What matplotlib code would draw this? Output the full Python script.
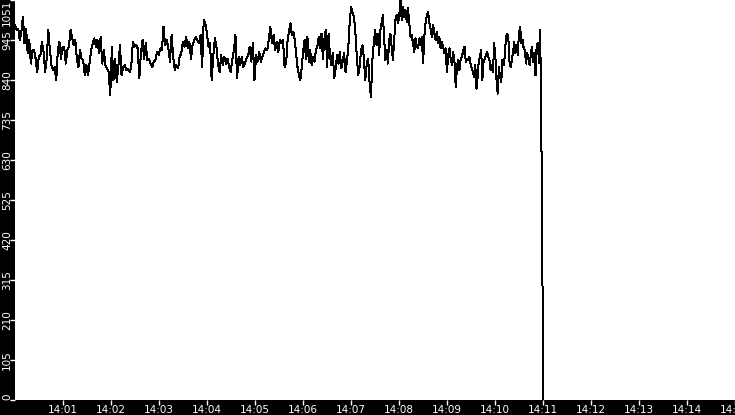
import datetime as dt
import numpy as np
import matplotlib
matplotlib.use("Agg")
import matplotlib.pyplot as plt
import matplotlib.dates as mdates

# readings, one list per stretch of the trace
seg_starts = ["14:00:00", "14:01:53", "14:03:46", "14:05:39", "14:07:32", "14:09:25", "14:10:58"]

seg1 = [985, 972, 976, 946, 968, 1007, 937, 976, 911, 946, 884, 919, 919, 897, 862, 902, 906, 941, 915,
        862, 897, 972, 919, 880, 867, 875, 840, 919, 941, 897, 928, 928, 884, 919, 928, 972, 954, 932,
        946, 897, 875, 919, 897, 893, 853, 880, 853, 884, 919, 937, 950, 928, 946, 911, 954, 884, 919]
seg2 = [880, 871, 862, 801, 928, 840, 897, 836, 875, 932, 853, 875, 880, 867, 871, 862, 875, 941, 928,
        932, 924, 845, 911, 946, 897, 937, 893, 897, 884, 875, 889, 893, 915, 906, 924, 919, 981, 932,
        946, 924, 889, 959, 902, 867, 880, 871, 902, 911, 941, 928, 954, 924, 941, 897, 932, 946]
seg3 = [954, 946, 937, 959, 875, 998, 990, 963, 928, 937, 840, 902, 950, 928, 884, 862, 906, 880, 902,
        884, 897, 875, 862, 893, 919, 959, 845, 902, 880, 902, 875, 884, 897, 906, 928, 889, 937, 840,
        906, 889, 915, 889, 902, 915, 924, 919, 946, 981, 937, 959, 919, 941, 915, 946, 937, 946, 875]
seg4 = [889, 946, 968, 990, 959, 968, 946, 911, 875, 853, 840, 875, 915, 946, 897, 954, 889, 919, 880,
        902, 889, 919, 928, 954, 924, 963, 897, 946, 972, 875, 963, 902, 880, 911, 845, 871, 906, 884,
        915, 871, 889, 911, 862, 889, 928, 998, 1033, 1016, 1007, 963, 902, 853, 875, 919, 932, 897,
        840, 884, 897, 836, 796, 893, 937, 972]
seg5 = [932, 963, 906, 972, 990, 1011, 954, 893, 919, 884, 946, 963, 928, 893, 946, 998, 1011, 990,
        1007, 1051, 998, 1033, 1007, 1025, 994, 1029, 990, 954, 959, 937, 915, 950, 928, 924, 950, 932,
        954, 884, 954, 990, 1011, 1020, 990, 976, 954, 985, 963, 946, 968, 937, 954, 924, 941, 928, 911,
        924, 862, 906, 924, 897, 880, 915, 889, 823, 875, 893, 867, 897, 902, 919, 928, 889]
seg6 = [897, 893, 902, 884, 871, 862, 849, 880, 818, 849, 893, 902, 919, 840, 889, 897, 906, 915, 902,
        893, 867, 880, 862, 937, 902, 840, 805, 875, 849, 836, 893, 880, 902, 954, 963, 950, 889, 875,
        893, 915, 941, 911, 932, 906, 963, 981, 937, 946, 924, 919, 884, 911, 897, 880, 906, 928, 889,
        911, 853, 932, 937, 884, 972]
drop_times = ["14:10:59", "14:11:00"]
drop_vals = [480, 0]


def at(hms):
    return dt.datetime.strptime("2024-01-01 " + hms, "%Y-%m-%d %H:%M:%S")


segs = [seg1, seg2, seg3, seg4, seg5, seg6]
times = []
vals = []
for i, seg in enumerate(segs):
    t0 = at(seg_starts[i])
    t1 = at(seg_starts[i + 1])
    step = (t1 - t0) / len(seg)
    times += [t0 + step * k for k in range(len(seg))]
    vals += seg
times += [at(t) for t in drop_times]
vals += drop_vals
x = mdates.date2num(times)

W, H = 735, 415
fig = plt.figure(figsize=(W / 100, H / 100), dpi=100, facecolor="black")
ax = fig.add_axes([15 / W, 15 / H, 1 - 15 / W, 1 - 15 / H])
ax.set_facecolor("white")
for s in ax.spines.values():
    s.set_visible(False)

ax.plot(x, vals, color="black", lw=0.72, antialiased=False)

ymax = max(vals)
ax.set_ylim(0, ymax)
yt = np.linspace(0, ymax, 11)
ax.set_yticks(yt)
ax.set_yticklabels([str(int(v)) for v in yt], rotation=90, fontsize=7.5)
labs = ax.get_yticklabels()
for k, lab in enumerate(labs):
    lab.set_ha("center")
    if k == 0:
        lab.set_va("bottom")
    elif k == len(labs) - 1:
        lab.set_va("top")
    else:
        lab.set_va("center")

ax.set_xlim(mdates.date2num(at("14:00:00")), mdates.date2num(at("14:15:00")))
xt = [at("14:%02d:00" % m) for m in range(1, 16)]
ax.set_xticks(mdates.date2num(xt))
ax.set_xticklabels([t.strftime("%H:%M") for t in xt], fontsize=7.5)

ax.tick_params(colors="white", length=3.6, width=1, direction="out")
ax.tick_params(axis="y", pad=2.2)
ax.tick_params(axis="x", pad=0.3)

fig.savefig("out.png", dpi=100, facecolor="black")
